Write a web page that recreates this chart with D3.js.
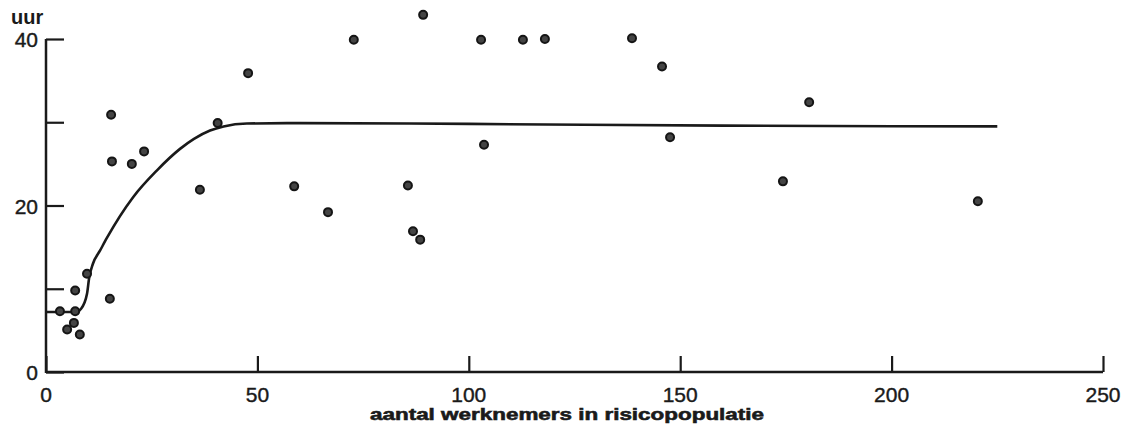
<html>
<head>
	<meta charset="utf-8">
	<script src="https://d3js.org/d3.v7.min.js"></script>
	<style>
		body { margin: 0; background: #fff; }
		text { font-family: "Liberation Sans", Arial, sans-serif; fill: #1a1a1a; }
	</style>
</head>
<body>
	<script>
		// meetpunten
		var pointX = [3.3, 5.0, 6.6, 6.9, 6.9, 8.0, 9.7, 15.1, 15.4, 15.6, 20.3, 23.2, 36.4, 40.6, 47.8, 58.7,
			66.7, 72.8, 85.6, 86.8, 88.5, 89.2, 102.9, 103.6, 112.8, 118.0, 138.6, 145.7, 147.6, 174.3, 180.5, 220.4];
		var pointY = [7.3, 5.1, 5.9, 7.3, 9.8, 4.5, 11.8, 8.8, 30.9, 25.3, 25.0, 26.5, 21.9, 29.9, 35.9, 22.3,
			19.2, 39.9, 22.4, 16.9, 15.9, 42.9, 39.9, 27.3, 39.9, 40.0, 40.1, 36.7, 28.2, 22.9, 32.4, 20.5];

		// getekende curve
		var curveX = [0, 7, 8.3, 9.7, 10.2, 11.1, 12.8, 14.4, 20.6, 26.2, 31.7, 35, 38.8, 42, 47.5, 60, 100, 160, 225];
		var curveY = [7.2, 7.2, 7.6, 9.4, 11.3, 13.0, 14.6, 16.1, 21.0, 24.2, 26.8, 28.0, 29.0, 29.5, 29.85, 29.9, 29.8, 29.6, 29.5];

		var xTicks = [0, 50, 100, 150, 200, 250];
		var yTicks = [0, 10, 20, 30, 40];
		var yLabels = [0, 20, 40];

		var w = 1130;
		var h = 436;

		var x = d3.scaleLinear().domain([0, 250]).range([46, 1103]);
		var y = d3.scaleLinear().domain([0, 40]).range([372, 39]);

		var svg = d3.select('body').append('svg').attr('width', w).attr('height', h);

		// assen
		var xAxis = d3.axisTop(x).tickValues(xTicks).tickSize(16).tickFormat("");
		var yAxis = d3.axisRight(y).tickValues(yTicks).tickSize(18).tickFormat("");
		var gx = svg.append("g").attr("transform", "translate(0," + y(0) + ")").call(xAxis);
		var gy = svg.append("g").attr("transform", "translate(" + x(0) + ",0)").call(yAxis);
		gx.select(".domain").remove();
		gy.select(".domain").remove();
		svg.selectAll(".tick line").attr("stroke", "#1a1a1a").attr("stroke-width", 2.2);
		svg.append("line").attr("x1", x(0)).attr("x2", x(250)).attr("y1", y(0)).attr("y2", y(0))
			.attr("stroke", "#1a1a1a").attr("stroke-width", 2.5);
		svg.append("line").attr("x1", x(0)).attr("x2", x(0)).attr("y1", y(0) + 1).attr("y2", y(40))
			.attr("stroke", "#1a1a1a").attr("stroke-width", 2.5);

		// tick labels
		svg.selectAll(".xl").data(xTicks).enter().append("text")
			.attr("x", function(d){ return x(d); }).attr("y", 402)
			.attr("text-anchor", "middle").attr("font-size", 21)
			.attr("stroke", "#1a1a1a").attr("stroke-width", 0.4).text(function(d){ return d; });
		svg.selectAll(".yl").data(yLabels).enter().append("text")
			.attr("x", 38).attr("y", function(d){ return y(d) + 8; })
			.attr("text-anchor", "end").attr("font-size", 21)
			.attr("stroke", "#1a1a1a").attr("stroke-width", 0.4).text(function(d){ return d; });

		svg.append("text").attr("x", 11).attr("y", 24).attr("font-size", 20).attr("font-weight", "bold").text("uur");
		svg.append("text").attr("x", 567).attr("y", 420).attr("text-anchor", "middle")
			.attr("font-size", 17).attr("font-weight", "bold")
			.attr("stroke", "#1a1a1a").attr("stroke-width", 0.6)
			.attr("textLength", 394).attr("lengthAdjust", "spacingAndGlyphs")
			.text("aantal werknemers in risicopopulatie");

		// curve
		var line = d3.line().x(function(d, i){ return x(curveX[i]); }).y(function(d, i){ return y(curveY[i]); })
			.curve(d3.curveMonotoneX);
		svg.append("path").attr("fill", "none").attr("stroke", "#1a1a1a").attr("stroke-width", 2.6)
			.attr("d", line(curveX));

		// punten
		svg.selectAll(".pt").data(pointX).enter().append("circle")
			.attr("cx", function(d){ return x(d); })
			.attr("cy", function(d, i){ return y(pointY[i]); })
			.attr("r", 4)
			.attr("fill", "#444").attr("stroke", "#151515").attr("stroke-width", 2);
	</script>
</body>
</html>
